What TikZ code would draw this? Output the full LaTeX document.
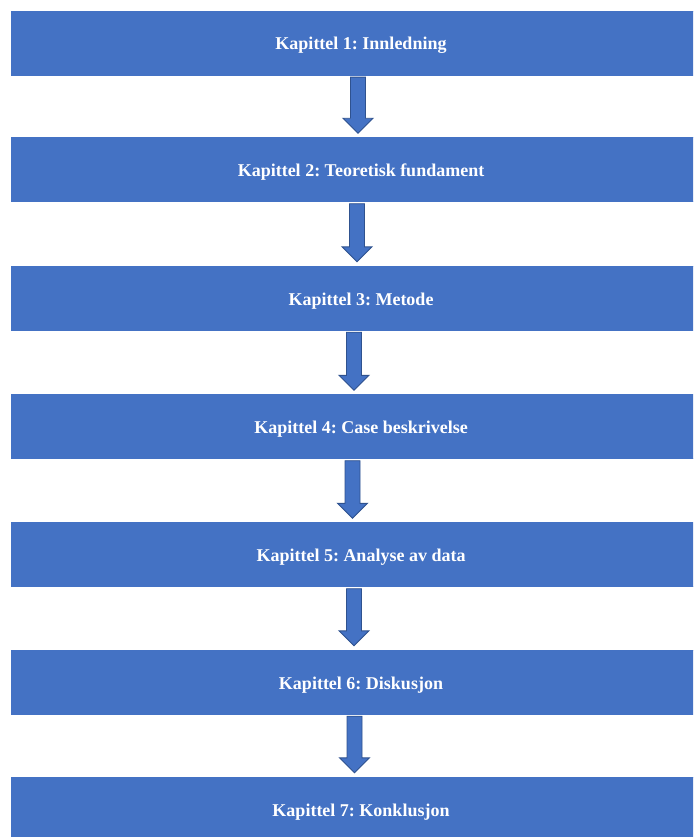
\documentclass[tikz,border=0pt]{standalone}
\usepackage{fontspec}
\setmainfont{Liberation Serif}
\usetikzlibrary{calc}
\definecolor{boxblue}{HTML}{4472C4}
\definecolor{edgeblue}{HTML}{2F528F}
\tikzset{
  chapbox/.style={rectangle, fill=boxblue, draw=boxblue, line width=0.4pt,
    minimum width=700pt, minimum height=64pt, inner sep=0pt, text=white,
    text height=14pt, text depth=0pt,
    font=\fontsize{18}{20}\selectfont\bfseries\frenchspacing},
  blockarr/.style={fill=boxblue, draw=edgeblue, line width=0.9pt, line join=miter}
}
\newcommand\blockarrow[3]{%
  \draw[blockarr] ($(#1.south)+(#3-7.5,2)$) -- ($(#1.south)+(#3+7.5,2)$)
    -- ($(#2.north)+(#3+7.5,-19)$) -- ($(#2.north)+(#3+15,-19)$)
    -- ($(#2.north)+(#3,-4)$) -- ($(#2.north)+(#3-15,-19)$)
    -- ($(#2.north)+(#3-7.5,-19)$) -- cycle;}
\begin{document}
\begin{tikzpicture}[x=1pt,y=-1pt]
  \useasboundingbox (0,0) rectangle (693,837);
  \clip (0,0) rectangle (693,837);
  \fill[white] (0,0) rectangle (693,837);
  \node[chapbox] (b1) at (361,43) {Kapittel 1: Innledning};
  \node[chapbox] (b2) at (361,169.5) {Kapittel 2: Teoretisk fundament};
  \node[chapbox] (b3) at (361,298) {Kapittel 3: Metode};
  \node[chapbox] (b4) at (361,426.5) {Kapittel 4: Case beskrivelse};
  \node[chapbox] (b5) at (361,554.5) {Kapittel 5: Analyse av data};
  \node[chapbox] (b6) at (361,682) {Kapittel 6: Diskusjon};
  \node[chapbox] (b7) at (361,809) {Kapittel 7: Konklusjon};
  \blockarrow{b1}{b2}{-3}
  \blockarrow{b2}{b3}{-4}
  \blockarrow{b3}{b4}{-7}
  \blockarrow{b4}{b5}{-8.5}
  \blockarrow{b5}{b6}{-7}
  \blockarrow{b6}{b7}{-6.5}
\end{tikzpicture}
\end{document}
